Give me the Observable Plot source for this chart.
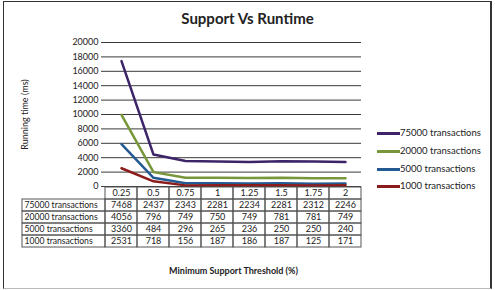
<!DOCTYPE html>
<html>
<head>
<meta charset="utf-8">
<script src="https://cdn.jsdelivr.net/npm/d3@7"></script>
<script src="https://cdn.jsdelivr.net/npm/@observablehq/plot@0.6"></script>
<style>
  html, body { margin: 0; padding: 0; background: #fff; }
  #wrap { position: relative; width: 495px; height: 290px; font-family: Lato, "Open Sans", sans-serif; color: #222; overflow: hidden; }
  #wrap svg { position: absolute; left: 0; top: 0; }
  #frame { position: absolute; left: 3px; top: 1px; width: 486px; height: 286px; border: 1px solid #333; border-right-width: 2px; border-bottom-color: #bbb; box-sizing: content-box; }
  #title { position: absolute; left: 0; width: 495px; top: 9px; text-align: center; font-weight: bold; font-size: 15px; color: #222; }
  .leg { position: absolute; left: 377px; height: 12px; font-size: 9.5px; color: #222; white-space: nowrap; }
  .leg .sw { position: absolute; left: 0; top: 5px; width: 23px; height: 2.5px; }
  .leg .lb { position: absolute; left: 23px; top: 0; line-height: 12px; }
</style>
</head>
<body>
<div id="wrap">
  <div id="frame"></div>
  <div id="title">Support Vs Runtime</div>
</div>
<script>
// ---- data ----
const categories = ["0.25", "0.5", "0.75", "1", "1.25", "1.5", "1.75", "2"];
const seriesNames = ["75000 transactions", "20000 transactions", "5000 transactions", "1000 transactions"];
const t75000 = [7468, 2437, 2343, 2281, 2234, 2281, 2312, 2246];
const t20000 = [4056, 796, 749, 750, 749, 781, 781, 749];
const t5000 = [3360, 484, 296, 265, 236, 250, 250, 240];
const t1000 = [2531, 718, 156, 187, 186, 187, 125, 171];
const seriesColors = ["#3d2368", "#78963a", "#235a92", "#8c1c1c"];
const yTicks = [0, 2000, 4000, 6000, 8000, 10000, 12000, 14000, 16000, 18000, 20000];
const yLabel = "Running time (ms)";
const xLabel = "Minimum Support Threshold (%)";

// ---- build table ----
const valuesBySeries = [t75000, t20000, t5000, t1000];
const data = seriesNames.flatMap((s, i) => categories.map((c, j) => ({series: s, cat: c, value: valuesBySeries[i][j]})));
const stackOrder = seriesNames.slice().reverse(); // 1000 at bottom

const W = 495, H = 290;
const common = {
  width: W, height: H,
  marginLeft: 105, marginRight: 134,
  style: {fontFamily: "Lato, 'Open Sans', sans-serif", fontSize: "9px", color: "#222", background: "transparent", overflow: "visible"}
};

const chart = Plot.plot({
  ...common,
  marginTop: 42, marginBottom: 104,
  x: {type: "point", domain: categories, padding: 0.5, axis: null},
  y: {domain: [0, 20000], axis: null},
  color: {domain: seriesNames, range: seriesColors},
  marks: [
    Plot.ruleY(yTicks, {stroke: "#3a3a3a", strokeWidth: 1}),
    Plot.axisY(yTicks, {tickSize: 4, tickPadding: 3, tickFormat: d => String(d), label: null, stroke: "#3a3a3a", fontSize: 9}),
    Plot.text([yLabel], {frameAnchor: "left", textAnchor: "middle", rotate: -90, dx: -80, text: d => d, fontSize: 9}),
    Plot.lineY(data, Plot.stackY2({x: "cat", y: "value", z: "series", stroke: "series", order: stackOrder, strokeWidth: 2.5}))
  ]
});

const table = Plot.plot({
  ...common,
  marginTop: 186, marginBottom: 42,
  x: {type: "band", domain: categories, padding: 0, axis: null},
  y: {type: "band", domain: ["", ...seriesNames], padding: 0, axis: null},
  marks: [
    Plot.cell(categories, {x: d => d, y: () => "", fill: "none", stroke: "#555"}),
    Plot.text(categories, {x: d => d, y: () => "", text: d => d, fontSize: 9}),
    Plot.cell(data, {x: "cat", y: "series", fill: "none", stroke: "#555"}),
    Plot.text(data, {x: "cat", y: "series", text: d => String(d.value), fontSize: 9}),
    Plot.cell(seriesNames, {x: () => categories[0], y: d => d, fill: "none", stroke: "#555", insetLeft: -83, insetRight: 32}),
    Plot.text(seriesNames, {x: () => categories[0], y: d => d, text: d => d, textAnchor: "start", dx: -97, fontSize: 8.6}),
    Plot.text([xLabel], {frameAnchor: "bottom", dy: 25, text: d => d, fontWeight: "bold", fontSize: 9})
  ]
});

const wrap = document.getElementById("wrap");
wrap.appendChild(chart);
wrap.appendChild(table);

// legend
const legendY = [127, 145, 163, 180];
seriesNames.forEach((s, i) => {
  const el = document.createElement("div");
  el.className = "leg";
  el.style.top = legendY[i] + "px";
  el.innerHTML = `<div class="sw" style="background:${seriesColors[i]}"></div><div class="lb">${s}</div>`;
  wrap.appendChild(el);
});
</script>
</body>
</html>
